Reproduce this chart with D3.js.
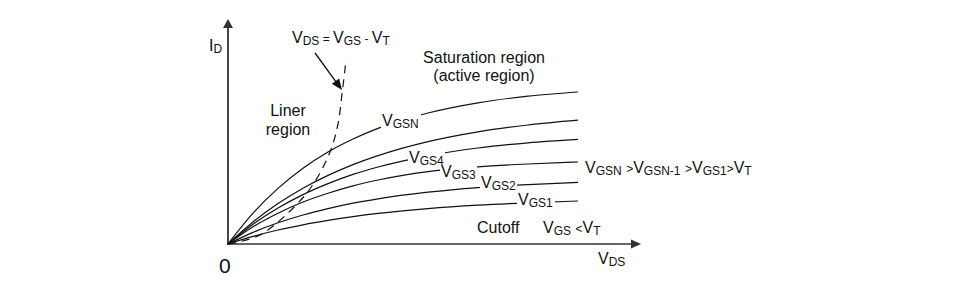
<!DOCTYPE html>
<html>
<head>
<meta charset="utf-8">
<script src="https://cdn.jsdelivr.net/npm/d3@7"></script>
<style>
  body { margin: 0; background: #fff; }
  text { font-family: "Liberation Sans", Arial, sans-serif; fill: #111; }
</style>
</head>
<body>
<div id="chart"></div>
<script>
// V_DS sample points (arbitrary units) shared by all output curves
var vds = [0, 0.5, 1, 1.5, 2, 2.5, 3, 4, 5, 6, 7];

// I_D for each gate voltage, top curve first
var idGSN = [0, 1.54, 2.78, 3.79, 4.60, 5.25, 5.78, 6.55, 7.06, 7.39, 7.60];
var idGS5 = [0, 1.10, 2.02, 2.79, 3.43, 3.97, 4.42, 5.12, 5.61, 5.95, 6.19];
var idGS4 = [0, 0.99, 1.80, 2.47, 3.02, 3.48, 3.85, 4.41, 4.80, 5.06, 5.23];
var idGS3 = [0, 0.86, 1.54, 2.10, 2.54, 2.91, 3.20, 3.62, 3.86, 4.00, 4.10];
var idGS2 = [0, 0.58, 1.06, 1.45, 1.77, 2.04, 2.26, 2.59, 2.82, 2.97, 3.08];
var idGS1 = [0, 0.38, 0.70, 0.96, 1.18, 1.37, 1.53, 1.77, 1.94, 2.06, 2.15];

var curveLabels = ["V_{GSN}", null, "V_{GS4}", "V_{GS3}", "V_{GS2}", "V_{GS1}"];
// where each curve is interrupted by its label (V_DS from, to)
var labelGaps = [[3.06, 3.86], null, [3.60, 4.34], [4.24, 4.98], [5.04, 5.78], [5.78, 6.54]];

// V_DS = V_GS - V_T boundary (dashed)
var pinchVds = [0, 0.6, 1.2, 1.68, 2.04, 2.2, 2.28, 2.34, 2.36];
var pinchId  = [0, 0.4, 1.55, 2.9, 4.6, 6.0, 7.5, 8.75, 9.25];

var width = 961, height = 297;

var svg = d3.select("#chart").append("svg")
    .attr("width", width)
    .attr("height", height);

var x = d3.scaleLinear().domain([0, 8.24]).range([228, 640]);
var y = d3.scaleLinear().domain([0, 11.2]).range([244, 20]);

// label with "_{..}" subscripts and "^{..}" small operators
function label(px, py, str, opts) {
    opts = opts || {};
    var big = opts.size || 16, small = opts.sub || 12;
    var t = svg.append("text")
        .attr("x", px).attr("y", py)
        .attr("text-anchor", opts.anchor || "start")
        .style("font-size", big + "px");
    var re = /_\{([^}]*)\}|\^\{([^}]*)\}|([^_^]+)/g, m, off = 0;
    while ((m = re.exec(str)) !== null) {
        var isSub = m[1] !== undefined, isOp = m[2] !== undefined;
        var txt = isSub ? m[1] : (isOp ? m[2] : m[3]);
        var target = isSub ? 2 : 0;
        t.append("tspan")
            .attr("dy", target - off)
            .style("font-size", (isSub || isOp ? small : big) + "px")
            .style("white-space", "pre")
            .text(txt);
        off = target;
    }
    return t;
}

// axes
var axisCol = "#333";
svg.append("line")
    .attr("x1", x(0)).attr("y1", y(0) + 1)
    .attr("x2", x(0)).attr("y2", y(10.8))
    .attr("stroke", axisCol).attr("stroke-width", 1.8);
svg.append("path")
    .attr("d", d3.line()([[x(0) - 5, y(10.8)], [x(0) + 5, y(10.8)], [x(0), y(11.25)]]) + "Z")
    .attr("fill", axisCol);
svg.append("line")
    .attr("x1", x(0) - 1).attr("y1", y(0))
    .attr("x2", x(8.06)).attr("y2", y(0))
    .attr("stroke", axisCol).attr("stroke-width", 1.5);
svg.append("path")
    .attr("d", d3.line()([[x(8.06), y(0) - 4.5], [x(8.06), y(0) + 4.5], [x(8.26), y(0)]]) + "Z")
    .attr("fill", axisCol);

// output curves
var series = [idGSN, idGS5, idGS4, idGS3, idGS2, idGS1];
var line = d3.line()
    .x(function(d) { return x(d[0]); })
    .y(function(d) { return y(d[1]); })
    .curve(d3.curveMonotoneX);

var defs = svg.append("defs");
var labelNudge = [-1, 0, 3, 7, 1, 2];   // px, baseline below the cut

series.forEach(function(s, i) {
    var pts = vds.map(function(v, j) { return [v, s[j]]; });
    var p = svg.append("path")
        .attr("d", line(pts))
        .attr("fill", "none")
        .attr("stroke", "#111")
        .attr("stroke-width", 1.2);
    var gap = labelGaps[i];
    if (gap) {
        var cp = defs.append("clipPath").attr("id", "gap" + i);
        cp.append("rect").attr("x", 0).attr("y", 0)
            .attr("width", x(gap[0])).attr("height", height);
        cp.append("rect").attr("x", x(gap[1])).attr("y", 0)
            .attr("width", width - x(gap[1])).attr("height", height);
        p.attr("clip-path", "url(#gap" + i + ")");
        // label sits where the curve is cut
        var k = d3.bisectRight(vds, gap[0]) - 1;
        var f = (gap[0] - vds[k]) / (vds[k + 1] - vds[k]);
        var yy = s[k] + f * (s[k + 1] - s[k]);
        label(x(gap[0]) + 1, y(yy) + labelNudge[i], curveLabels[i]);
    }
});

// dashed pinch-off boundary
svg.append("path")
    .attr("d", d3.line()
        .x(function(d) { return x(d[0]); })
        .y(function(d) { return y(d[1]); })
        .curve(d3.curveCatmullRom)(pinchVds.map(function(v, j) { return [v, pinchId[j]]; })))
    .attr("fill", "none")
    .attr("stroke", "#111")
    .attr("stroke-width", 1.2)
    .attr("stroke-dasharray", "8,6");

// pointer to the boundary
var ax0 = [315, 53], ax1 = [342, 90];
var ang = Math.atan2(ax1[1] - ax0[1], ax1[0] - ax0[0]);
svg.append("line")
    .attr("x1", ax0[0]).attr("y1", ax0[1])
    .attr("x2", ax1[0] - 8 * Math.cos(ang)).attr("y2", ax1[1] - 8 * Math.sin(ang))
    .attr("stroke", "#111").attr("stroke-width", 1.3);
svg.append("path")
    .attr("d", d3.line()([
        [ax1[0], ax1[1]],
        [ax1[0] - 11 * Math.cos(ang) + 4.5 * Math.sin(ang), ax1[1] - 11 * Math.sin(ang) - 4.5 * Math.cos(ang)],
        [ax1[0] - 11 * Math.cos(ang) - 4.5 * Math.sin(ang), ax1[1] - 11 * Math.sin(ang) + 4.5 * Math.cos(ang)]
    ]) + "Z")
    .attr("fill", "#111");

// annotations
label(209, 51, "I_{D}");
label(292, 43, "V_{DS}^{ = }V_{GS}^{ - }V_{T}");
label(288, 116, "Liner", { anchor: "middle" });
label(288, 135, "region", { anchor: "middle" });
label(484, 63, "Saturation region", { anchor: "middle" });
label(484, 81, "(active region)", { anchor: "middle" });
label(x(7) + 7, 173, "V_{GSN} ^{>}V_{GSN-1} ^{>}V_{GS1}^{>}V_{T}");
label(477, 233, "Cutoff");
label(543, 233, "V_{GS} ^{<}V_{T}");
label(598, 264, "V_{DS}");
label(219, 273, "0", { size: 21 });
</script>
</body>
</html>
